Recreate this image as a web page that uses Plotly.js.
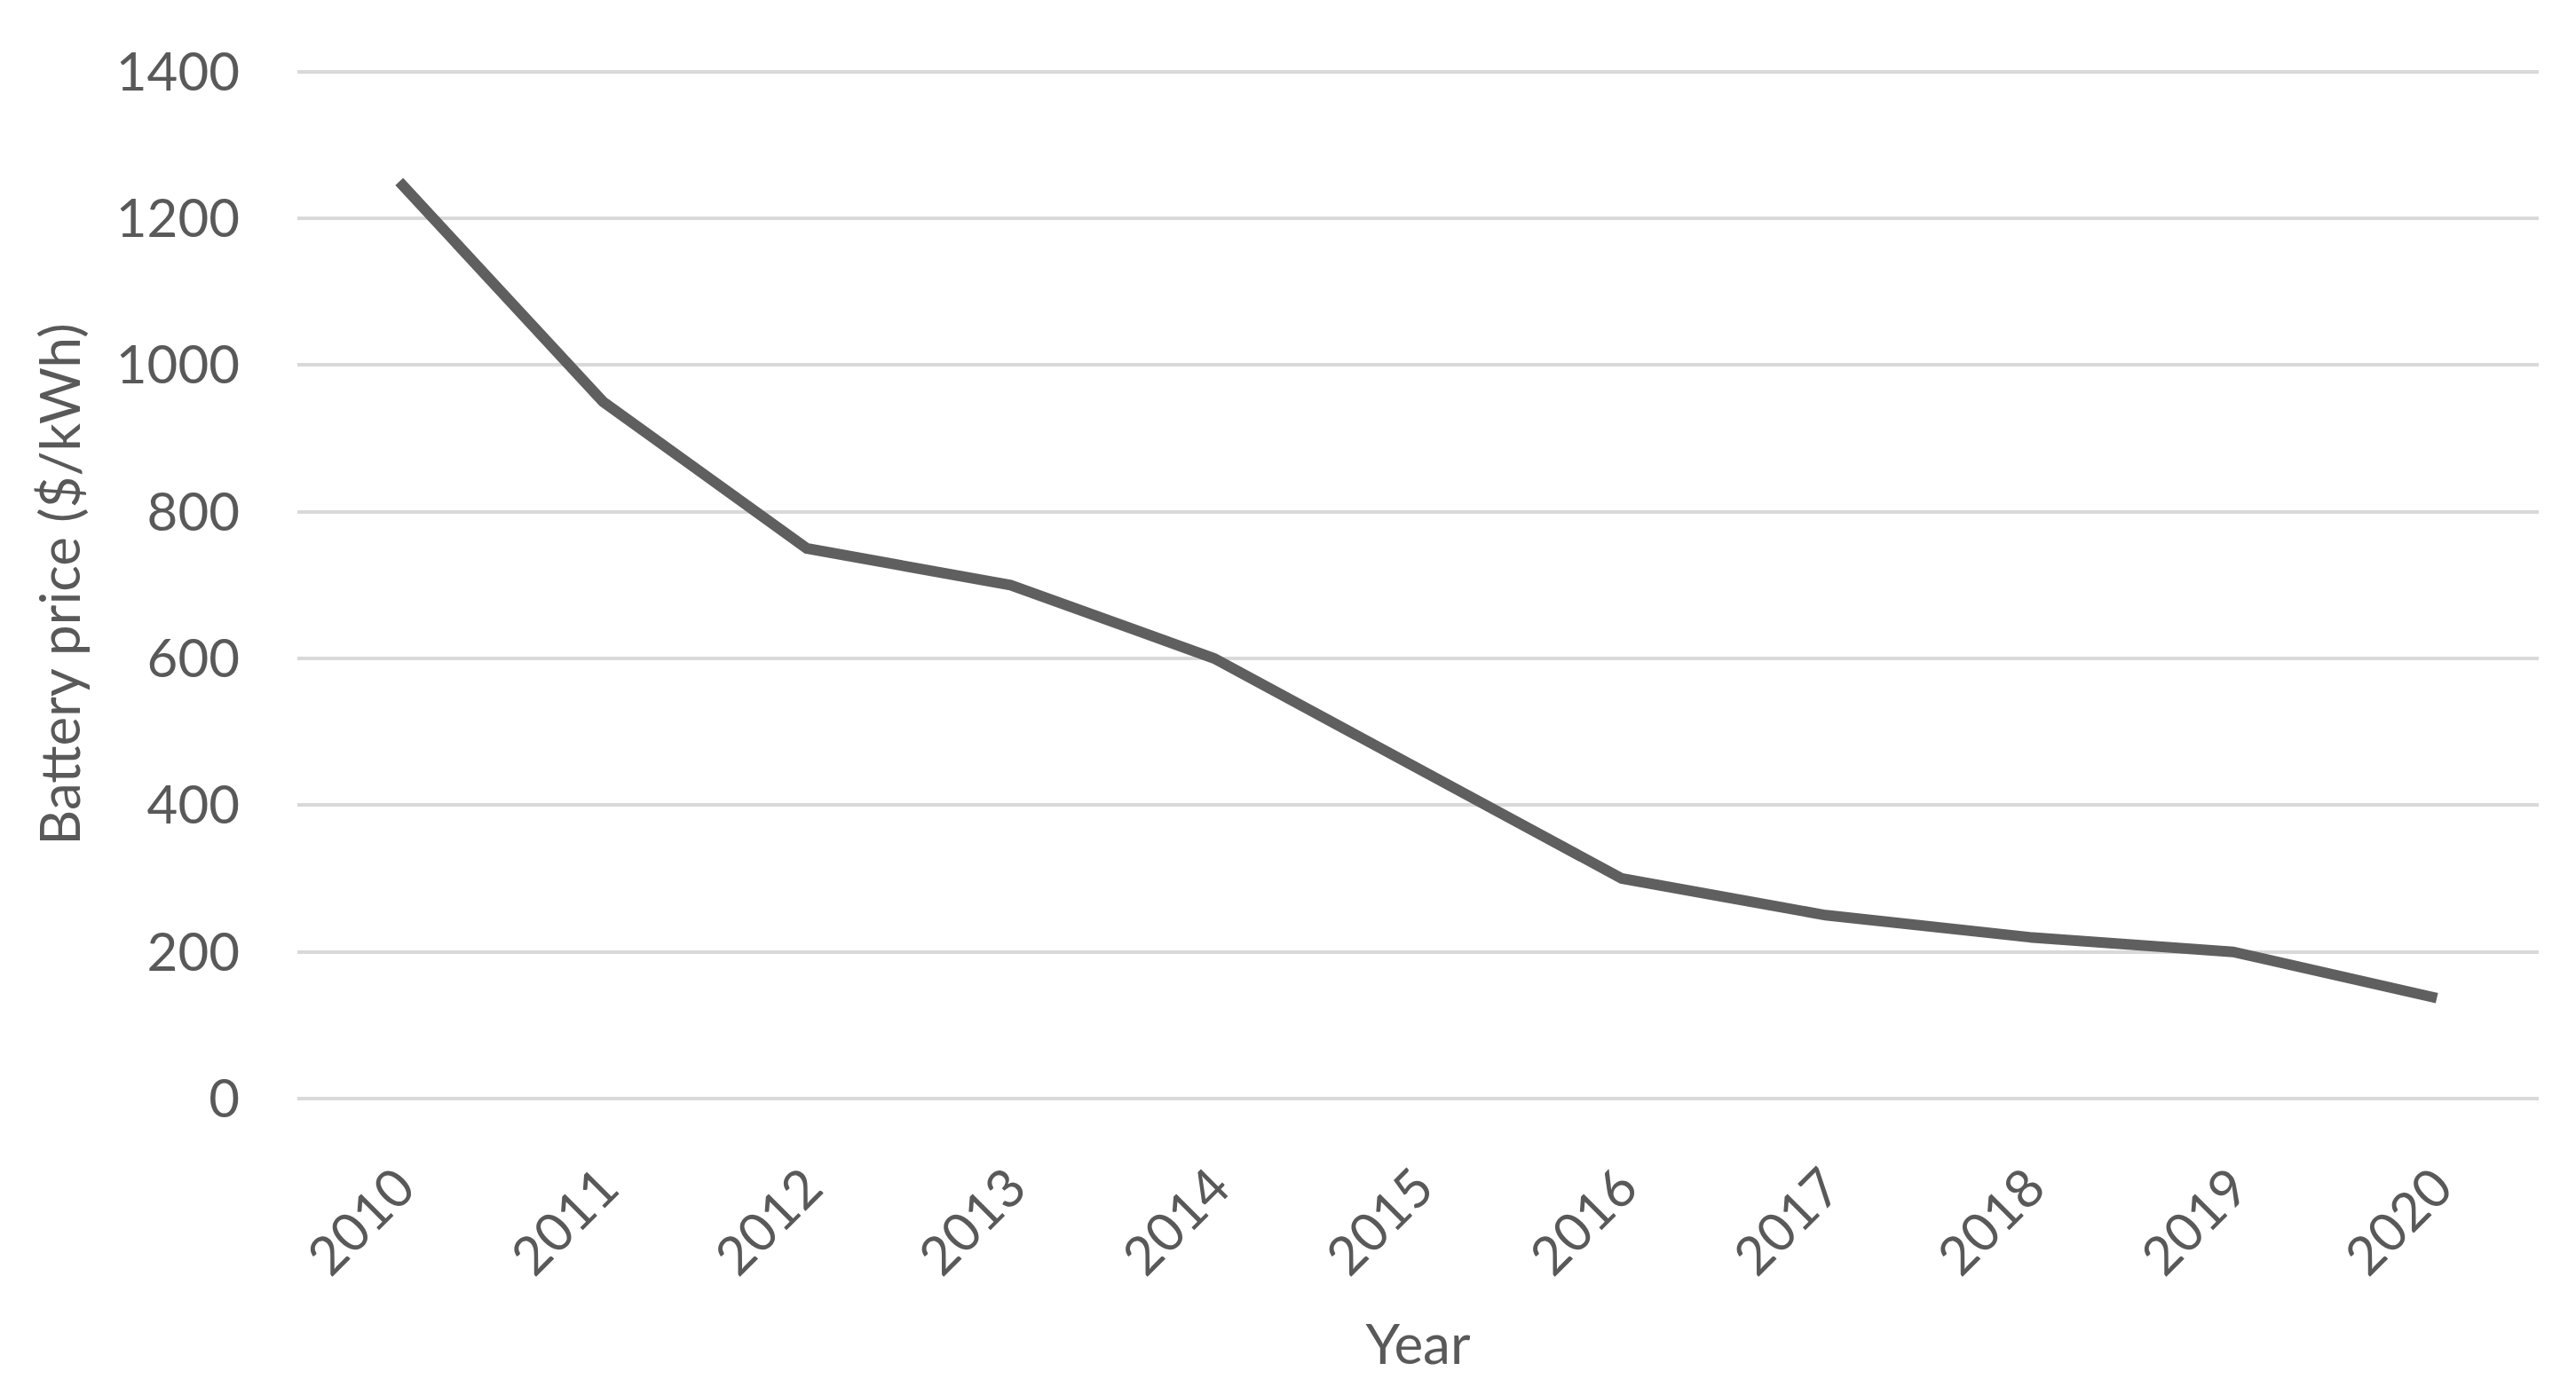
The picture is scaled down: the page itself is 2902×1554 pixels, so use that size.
<!DOCTYPE html>
<html>
<head>
<meta charset="utf-8">
<script src="https://cdn.plot.ly/plotly-3.0.1.min.js"></script>
<style>html,body{margin:0;padding:0;background:#fff;}#chart{width:2902px;height:1554px;}</style>
</head>
<body>
<div id="chart"></div>
<script>
const years = ["2010","2011","2012","2013","2014","2015","2016","2017","2018","2019","2020"];
const batteryPrice = [1250, 950, 750, 700, 600, 450, 300, 250, 220, 200, 137];
const yTicks = [0, 200, 400, 600, 800, 1000, 1200, 1400];
const xTitle = "Year";
const yTitle = "Battery price ($/kWh)";

const textColor = "#595959";
const fontFam = "Lato, 'Open Sans', sans-serif";

const trace = {
  type: "scatter",
  mode: "lines",
  x: years,
  y: batteryPrice,
  line: {color: "#5f5f5f", width: 12, shape: "linear"},
  hoverinfo: "x+y"
};

const layout = {
  width: 2902,
  height: 1554,
  margin: {l: 335, r: 42, t: 79, b: 316},
  paper_bgcolor: "#ffffff",
  plot_bgcolor: "#ffffff",
  showlegend: false,
  font: {family: fontFam, color: textColor, size: 60},
  xaxis: {
    type: "category",
    range: [-0.5, 10.5],
    showgrid: false,
    showline: false,
    zeroline: false,
    ticks: "outside",
    ticklen: 40,
    tickcolor: "rgba(0,0,0,0)",
    tickangle: -45,
    tickfont: {family: fontFam, color: textColor, size: 60},
    title: {text: xTitle, font: {family: fontFam, color: textColor, size: 62}, standoff: 44},
    automargin: false
  },
  yaxis: {
    range: [0, 1402],
    tickvals: yTicks,
    ticktext: yTicks.map(String),
    showgrid: true,
    gridcolor: "#d9d9d9",
    gridwidth: 4,
    zeroline: true,
    zerolinecolor: "#d9d9d9",
    zerolinewidth: 4,
    showline: false,
    ticks: "outside",
    ticklen: 52,
    tickcolor: "rgba(0,0,0,0)",
    tickfont: {family: fontFam, color: textColor, size: 60},
    title: {text: yTitle, font: {family: fontFam, color: textColor, size: 62}, standoff: 20},
    automargin: false
  }
};

Plotly.newPlot("chart", [trace], layout, {displayModeBar: false, staticPlot: true});
</script>
</body>
</html>
